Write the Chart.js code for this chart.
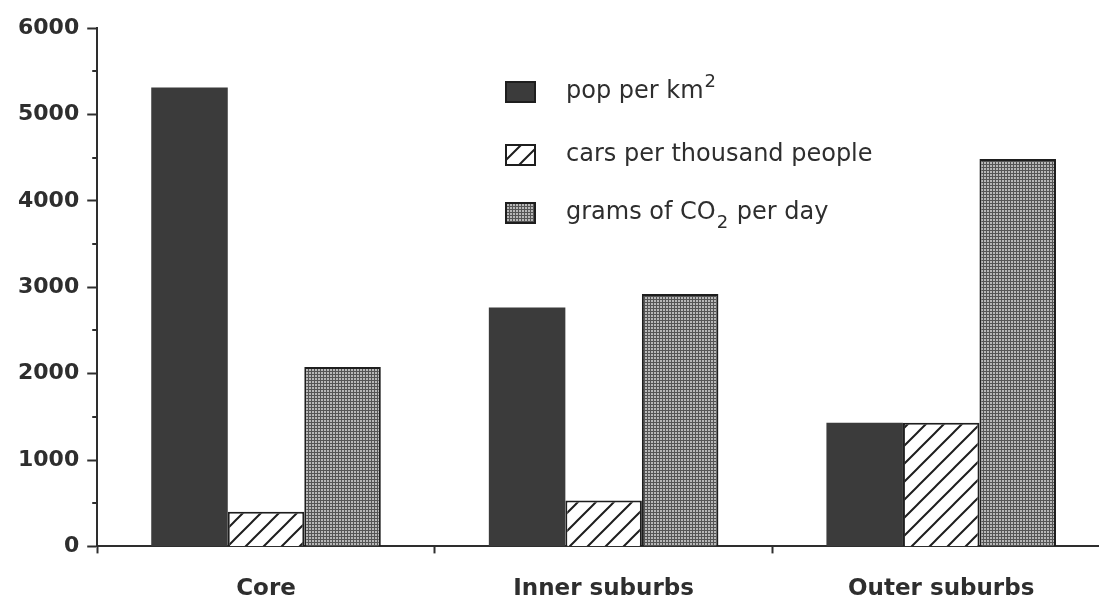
<!DOCTYPE html>
<html>
<head>
<meta charset="utf-8">
<script src="https://cdn.jsdelivr.net/npm/chart.js@4.4.1/dist/chart.umd.min.js"></script>
<style>
    html, body { margin: 0; padding: 0; background: #ffffff; overflow: hidden; }
    #wrap { position: relative; width: 1110px; height: 603px; }
</style>
</head>
<body>
<div id="wrap"><canvas id="urbanChart"></canvas></div>
<script>
// values
const categories = ['Core', 'Inner suburbs', 'Outer suburbs'];
const seriesLabels = ['pop per km\u00B2', 'cars per thousand people', 'grams of CO\u2082 per day'];
const popPerKm2 = [5310, 2765, 1430];
const carsPerThousand = [400, 530, 1430];
const co2PerDay = [2075, 2920, 4485];
const yMin = 0;
const yMax = 6000;
const yMajorStep = 1000;
const yMinorStep = 500;

const ink = '#2e2e2e';

// diagonal hatch for the cars series
function hatchPattern() {
    const c = document.createElement('canvas');
    const s = 18;
    c.width = s; c.height = s;
    const g = c.getContext('2d');
    g.fillStyle = '#ffffff';
    g.fillRect(0, 0, s, s);
    g.strokeStyle = '#1e1e1e';
    g.lineWidth = 2;
    g.beginPath();
    g.moveTo(-2, s + 2); g.lineTo(s + 2, -2);
    g.moveTo(-2, 2); g.lineTo(2, -2);
    g.moveTo(s - 2, s + 2); g.lineTo(s + 2, s - 2);
    g.stroke();
    return g.createPattern(c, 'repeat');
}

// fine stipple for the CO2 series
function stipplePattern() {
    const c = document.createElement('canvas');
    c.width = 3; c.height = 3;
    const g = c.getContext('2d');
    g.fillStyle = '#555555';
    g.fillRect(0, 0, 3, 3);
    g.fillStyle = '#b8b8b8';
    g.fillRect(0, 0, 2, 2);
    return g.createPattern(c, 'repeat');
}

const fills = ['#3b3b3b', hatchPattern(), stipplePattern()];

// half-step ticks on the y axis, shorter than the labelled ones
const minorTicks = {
    id: 'minorTicks',
    afterDraw(chart) {
        const y = chart.scales.y;
        const ctx = chart.ctx;
        ctx.save();
        ctx.strokeStyle = ink;
        ctx.lineWidth = 2;
        for (let v = yMin + yMinorStep; v < yMax; v += yMajorStep) {
            const py = Math.round(y.getPixelForValue(v));
            ctx.beginPath();
            ctx.moveTo(y.right - 5, py);
            ctx.lineTo(y.right, py);
            ctx.stroke();
        }
        ctx.restore();
    }
};

// draws a label, turning the ² / ₂ characters into raised / lowered 2s
function drawRichLabel(ctx, text, x, y) {
    const base = '24px "DejaVu Sans"';
    const small = '18px "DejaVu Sans"';
    let cx = x;
    for (const ch of text) {
        if (ch === '\u00B2' || ch === '\u2082') {
            ctx.font = small;
            ctx.fillText('2', cx + 1, ch === '\u00B2' ? y - 10 : y + 10);
            cx += ctx.measureText('2').width + 2;
        } else {
            ctx.font = base;
            ctx.fillText(ch, cx, y);
            cx += ctx.measureText(ch).width;
        }
    }
}

// legend drawn inside the plot, one row per series
const boxLegend = {
    id: 'boxLegend',
    afterDraw(chart) {
        const ctx = chart.ctx;
        const rows = [92, 155, 213];
        ctx.save();
        ctx.textBaseline = 'middle';
        chart.data.datasets.forEach(function(ds, i) {
            const cy = rows[i];
            ctx.fillStyle = ds.backgroundColor;
            ctx.fillRect(506, cy - 10, 29, 20);
            ctx.strokeStyle = '#1e1e1e';
            ctx.lineWidth = 2;
            ctx.strokeRect(506, cy - 10, 29, 20);
            ctx.fillStyle = ink;
            drawRichLabel(ctx, ds.label, 566, cy);
        });
        ctx.restore();
    }
};

document.addEventListener('DOMContentLoaded', function() {
    const ctx = document.getElementById('urbanChart').getContext('2d');
    const seriesValues = [popPerKm2, carsPerThousand, co2PerDay];

    new Chart(ctx, {
        type: 'bar',
        data: {
            labels: categories,
            datasets: seriesValues.map(function(vals, i) {
                return {
                    label: seriesLabels[i],
                    data: vals,
                    backgroundColor: fills[i],
                    borderColor: '#1e1e1e',
                    borderWidth: i === 0 ? 0 : 2,
                    barPercentage: 1,
                    categoryPercentage: 0.68,
                };
            }),
        },
        options: {
            responsive: true,
            maintainAspectRatio: false,
            animation: false,
            layout: {
                padding: { left: 10, top: 28, right: 0, bottom: -22 }
            },
            plugins: {
                legend: { display: false },
                tooltip: { enabled: false },
            },
            scales: {
                x: {
                    border: { display: true, color: ink, width: 2 },
                    grid: {
                        offset: true,
                        drawOnChartArea: false,
                        tickLength: 7,
                        tickColor: ink,
                        tickWidth: 2,
                    },
                    ticks: {
                        color: ink,
                        padding: 22,
                        font: { family: '"DejaVu Sans"', size: 23, weight: 'bold' },
                    },
                },
                y: {
                    min: yMin,
                    max: yMax,
                    border: { display: true, color: ink, width: 2 },
                    grid: {
                        drawOnChartArea: false,
                        tickLength: 10,
                        tickColor: ink,
                        tickWidth: 2,
                    },
                    ticks: {
                        stepSize: yMajorStep,
                        color: ink,
                        padding: 8,
                        font: { family: '"DejaVu Sans"', size: 22, weight: 'bold' },
                        callback: function(value) { return String(value); },
                    },
                },
            },
        },
        plugins: [minorTicks, boxLegend],
    });
});
</script>
</body>
</html>
